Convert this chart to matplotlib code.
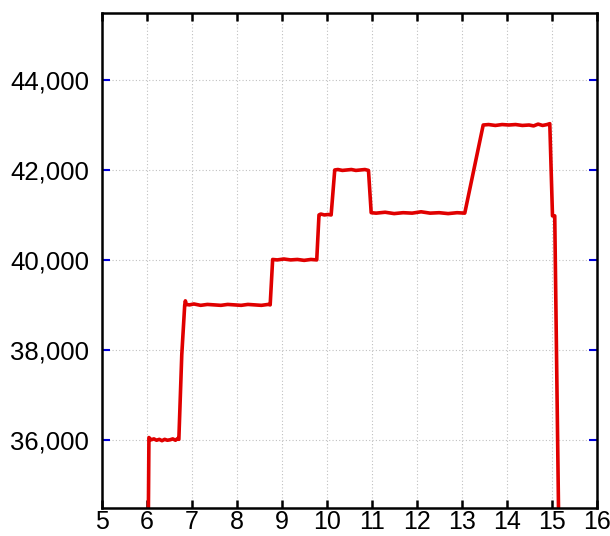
import matplotlib.pyplot as plt
from matplotlib.ticker import FuncFormatter

plt.rcParams['font.family'] = ['Liberation Sans', 'DejaVu Sans']

# trace (x, value)
xs = [6.00, 6.035, 6.05, 6.10, 6.16, 6.22, 6.28, 6.34, 6.40, 6.46, 6.52, 6.58, 6.64, 6.69, 6.715,
      6.78, 6.845, 6.86, 6.88, 6.95, 7.05, 7.2, 7.35, 7.5, 7.65, 7.8, 7.95, 8.1, 8.25, 8.4, 8.55, 8.70, 8.745,
      8.80, 8.9, 9.05, 9.2, 9.35, 9.5, 9.65, 9.78,
      9.83, 9.87, 9.95, 10.03, 10.10,
      10.18, 10.25, 10.35, 10.45, 10.55, 10.65, 10.75, 10.85, 10.93,
      10.99, 11.1, 11.3, 11.5, 11.7, 11.9, 12.1, 12.3, 12.5, 12.7, 12.9, 13.07,
      13.48, 13.6, 13.75, 13.9, 14.05, 14.2, 14.35, 14.5, 14.6, 14.7, 14.8, 14.9, 14.96,
      15.02, 15.07, 15.16]
ys = [34000, 34000, 36060, 36010, 36030, 36000, 36020, 35990, 36020, 36000, 36010, 36030, 36000, 36040, 36020,
      37900, 39000, 39100, 39020, 39010, 39030, 39000, 39020, 39010, 39000, 39020, 39010, 39000, 39020, 39010, 39000, 39020, 39010,
      40020, 40010, 40030, 40010, 40020, 40000, 40020, 40010,
      41010, 41030, 41010, 41020, 41010,
      42010, 42020, 42000, 42010, 42020, 42000, 42010, 42020, 42000,
      41060, 41050, 41070, 41040, 41060, 41050, 41080, 41050, 41060, 41040, 41060, 41050,
      43010, 43020, 43000, 43020, 43010, 43020, 43000, 43010, 42990, 43030, 43000, 43020, 43040,
      40990, 40990, 34000]

xticks = list(range(5, 17))
yticks = [36000, 38000, 40000, 42000, 44000]

fig = plt.figure(figsize=(6.1, 5.36), dpi=100)
ax = fig.add_axes([0.1667, 0.0528, 0.978 - 0.1667, 0.9757 - 0.0528])

ax.plot(xs, ys, color='#e00000', lw=2.6, solid_joinstyle='round')

ax.set_xlim(5, 16)
ax.set_ylim(34500, 45500)
ax.set_xticks(xticks)
ax.set_yticks(yticks)
ax.yaxis.set_major_formatter(FuncFormatter(lambda v, p: '{:,.0f}'.format(v)))

ax.grid(True, color='#c0c0c0', linestyle=(0, (1, 2)), linewidth=0.8)
for s in ax.spines.values():
    s.set_linewidth(1.8)
    s.set_color('black')

ax.tick_params(axis='x', direction='in', top=True, bottom=True, length=6, width=1.8,
               colors='black', labelsize=18, pad=2)
ax.tick_params(axis='y', direction='in', left=True, right=True, length=6, width=1.5,
               color='#0000dd', labelcolor='black', labelsize=18.5, pad=9)

fig.savefig('out.png', dpi=100)
